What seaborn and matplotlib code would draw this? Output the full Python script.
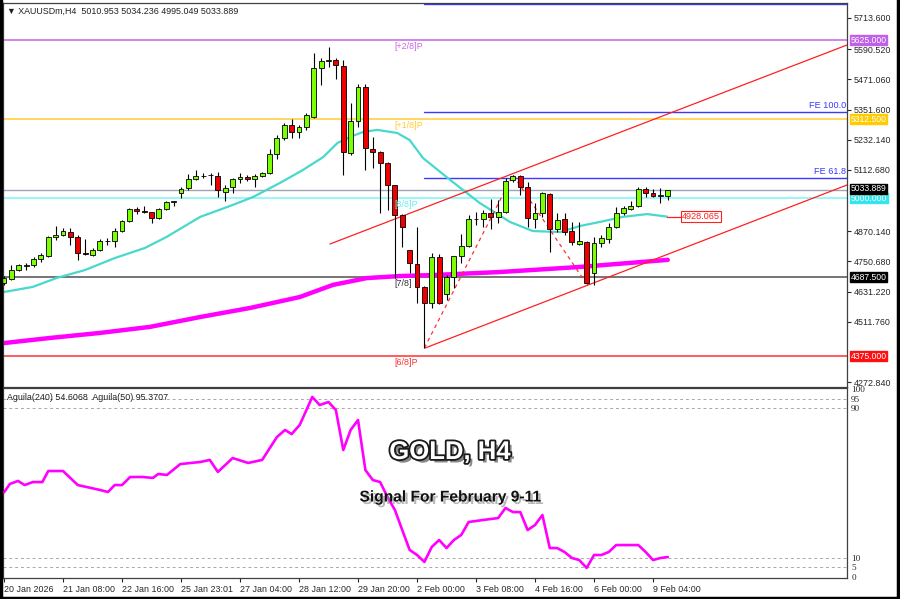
import numpy as np
import pandas as pd
import matplotlib
matplotlib.use("Agg")
import matplotlib.pyplot as plt
import matplotlib.patheffects as pe
from matplotlib.lines import Line2D
from matplotlib.transforms import blended_transform_factory
import seaborn as sns

sns.set_style("white")
plt.rcParams["font.family"] = ["Liberation Sans", "DejaVu Sans"]

# ---- H4 candles, XAUUSDm (bar 0 = 20 Jan 2026) ----
opens = [4665.5, 4681.4, 4716.9, 4734, 4736.7, 4760.5, 4772.3, 4847.5, 4855.4, 4867.2,
         4847.5, 4784.2, 4776.3, 4796.0, 4830, 4831.6, 4871.2, 4910.7, 4958.2, 4950.3,
         4946.3, 4922.6, 4958.2, 4986, 5021.5, 5041.3, 5076.9, 5088, 5092, 5088.7,
         5025.4, 5045.2, 5076.9, 5084.8, 5076.9, 5088.7, 5100.6, 5175.7, 5239.0, 5290.4,
         5262.7, 5282.5, 5322.1, 5515.9, 5545, 5547.5, 5523.8, 5179.7, 5306.2, 5440.7,
         5195.5, 5183.6, 5140.1, 5053.1, 4934.5, 4796.0, 4740.7, 4649.7, 4586.4, 4768.4,
         4622.0, 4689.3, 4772.3, 4811.9, 4917, 4918.7, 4942.4, 4926.6, 4946.3, 5072.9,
         5088.7, 5045.2, 4918.7, 4942.4, 5017.5, 4879.1, 4918.7, 4871.2, 4819.8, 4827.7,
         4705.1, 4823.7, 4839.6, 4887.0, 4942.4, 4958.2, 4970.1, 5037.3, 5021.5, 5011,
         5010.953]
highs = [4693.2, 4736.7, 4740.7, 4744.6, 4768.4, 4784.2, 4851.4, 4891.0, 4883.1, 4883.1,
         4855.4, 4839.6, 4804.0, 4839.6, 4843.5, 4883.1, 4914.7, 4962.2, 4966.1, 4970.1,
         4948, 4962.2, 4989.8, 4991, 5045.2, 5096.6, 5112.4, 5100.6, 5100.6, 5104.5,
         5053.1, 5080.8, 5100.6, 5092.7, 5096.6, 5104.5, 5195.5, 5250.9, 5298.3, 5314.2,
         5290.4, 5337.9, 5575.2, 5555.4, 5598.9, 5555.4, 5547.5, 5377.4, 5452.6, 5452.6,
         5243.0, 5186, 5144.1, 5055, 4937, 4798, 4887.0, 4652, 4784.2, 4780.2,
         4697.2, 4774, 4859.3, 4934.5, 4946.3, 4954.2, 4997.8, 4993.8, 5080.8, 5092.7,
         5092.7, 5065.0, 4981.9, 5025.4, 5021.5, 4942.4, 4942.4, 4906.8, 4906.8, 4830,
         4847.5, 4855.4, 4902.8, 4966.1, 4970.1, 4989.8, 5045.2, 5045.2, 5037.3, 5041.3,
         5034.236]
lows = [4657.6, 4677.4, 4713.0, 4716.9, 4728.8, 4748.6, 4768.4, 4835.6, 4851.4, 4815.8,
        4756.5, 4776.3, 4772.3, 4792.1, 4815.8, 4807.9, 4867.2, 4906.8, 4938.4, 4944,
        4902.8, 4918.7, 4954.2, 4970.1, 5001.7, 5033.3, 5072.9, 5080.8, 5053.1, 5005.7,
        4989.8, 5021.5, 5061.0, 5068.9, 5045.2, 5084.8, 5096.6, 5156.0, 5231.1, 5239.0,
        5239.0, 5270.6, 5318.1, 5448.6, 5519.8, 5472.4, 5092.7, 5171.8, 5282.5, 5112.4,
        5120.4, 4942.4, 4954.2, 4685.3, 4807.9, 4705.1, 4586.4, 4408.5, 4566.7, 4582.5,
        4598.3, 4645.8, 4744.6, 4807.9, 4894.9, 4887.0, 4879.1, 4902.8, 4942.4, 5065.0,
        5013.6, 4887.0, 4883.1, 4926.6, 4788.1, 4867.2, 4855.4, 4815.8, 4815.8, 4661.6,
        4657.6, 4807.9, 4823.7, 4883.1, 4934.5, 4954.2, 4966.1, 5005.7, 5005.7, 4981.9,
        4995.049]
closes = [4685.3, 4716.9, 4736.7, 4737, 4760.5, 4776.3, 4847.5, 4855.4, 4871.2, 4847.5,
          4784.2, 4780.2, 4796.0, 4831.6, 4832, 4871.2, 4910.7, 4958.2, 4950.3, 4946.3,
          4922.6, 4958.2, 4985.9, 4988, 5037.3, 5076.9, 5088.7, 5090, 5093, 5033.3,
          5041.3, 5076.9, 5084.8, 5076.9, 5088.7, 5100.6, 5175.7, 5239.0, 5290.4, 5262.7,
          5282.5, 5330.0, 5515.9, 5543.5, 5547.5, 5527.7, 5183.6, 5306.2, 5440.7, 5199.5,
          5183.6, 5140.1, 5053.1, 4934.5, 4887.0, 4744.6, 4649.7, 4586.4, 4768.4, 4586.4,
          4689.3, 4772.3, 4811.9, 4918.7, 4919, 4942.4, 4926.6, 4946.3, 5068.9, 5088.7,
          5045.2, 4922.6, 4942.4, 5021.5, 4879.1, 4914.7, 4867.2, 4827.7, 4831.6, 4665.5,
          4823.7, 4843.5, 4887.0, 4942.4, 4962.2, 4970.1, 5037.3, 5021.5, 5009.6, 5012,
          5033.889]

# moving averages at a few bars
ma_fast_bar = [0, 3.9, 7.1, 11, 15, 19.1, 22, 26.6, 31, 33.8, 37.4, 40.5, 43.3, 45.2, 46.9,
               48.7, 50.6, 53.3, 55, 56.8, 60.5, 64.5, 68.6, 71.7, 75.4, 78.1, 80.8, 83.9,
               87.2, 89.9]
ma_fast_val = [4630, 4650, 4685, 4717, 4764, 4804, 4847, 4927, 4974, 5006, 5061, 5112, 5164,
               5219, 5243, 5263, 5271, 5259, 5231, 5160, 5073, 4982, 4907, 4871, 4867, 4891,
               4907, 4927, 4938, 4928.065]
ma_slow_bar = [0, 6.2, 13, 19.8, 26.6, 33.4, 40.1, 44.6, 49.2, 53.7, 58.2, 67.3, 78.1, 90]
ma_slow_val = [4428, 4448, 4468, 4492, 4531, 4567, 4610, 4658, 4685, 4693, 4697, 4709, 4729,
               4757]

# oscillator panel
osc_bar = [0, 0.8, 1.9, 2.8, 3.9, 5.2, 6, 8, 10, 13, 14.1, 15, 16, 17.1, 18.8, 20.2, 20.9,
           22.1, 23.9, 26.6, 27.9, 29, 31, 33.1, 35, 37, 38.1, 39, 40.1, 41.8, 42.8, 44, 45,
           46, 47, 48, 49, 50, 51, 52, 53, 54, 55, 56, 57, 58, 59, 60, 61, 62, 63, 65, 67,
           68, 69, 70, 71, 72, 73, 74, 75, 76, 77, 78, 79, 80, 81, 82, 83, 85, 86, 87, 88,
           89, 90]
osc_val = [45, 49.5, 51.1, 48.9, 50.5, 50.5, 56.4, 56.4, 48.9, 46.3, 45.2, 48.9, 48.9, 53.2,
           53.2, 52.7, 54.8, 54.3, 60.1, 61.2, 62.3, 55.9, 63.3, 60.7, 62.3, 74.5, 78.3, 76.1,
           81, 95.9, 91.6, 93.2, 88.9, 67.6, 78.3, 83.6, 56.9, 51.6, 50.5, 42.5, 35.6, 24.9,
           14.3, 11.6, 7.9, 15.9, 19.6, 15.3, 19.6, 22.3, 29.2, 30.3, 31.3, 36.7, 34.5, 34.5,
           24.9, 27.6, 32.9, 15.3, 15.3, 13.2, 10, 8.9, 4.7, 11.6, 11.6, 13.2, 16.9, 16.9,
           16.9, 13.2, 8.9, 10, 10.5]

# horizontal levels (price, line colour, label colour, label)
levels = [5625.0, 5312.5, 5000.0, 4687.5, 4375.0]
level_colors = ["#c864e6", "#ffcc33", "#7ff7f7", "#505050", "#ff3030"]
level_box_colors = ["#c060e8", "#ffcc00", "#33e6ee", "#000000", "#ff1010"]
level_tags = ["[+2/8]P", "[+1/8]P", "[8/8]P", "[7/8]", "[6/8]P"]
level_tag_colors = ["#c864e6", "#ffcc33", "#66eeee", "#303030", "#ff3030"]
last_price = 5033.889

fe_levels = [5768.0, 5341.8, 5080.8]
fe_tags = ["", "FE 100.0", "FE 61.8"]
fe_start_bar = 57

channel_bars = [44.2, 114.3]
channel_upper = [4819.8, 5606.8]
channel_lower_bars = [57.1, 114.3]
channel_lower = [4408.5, 5053.1]
zigzag_bars = [57, 69, 79]

price_ticks = [5713.6, 5590.52, 5471.06, 5351.6, 5232.14, 5112.68, 4870.14,
               4750.68, 4631.22, 4511.76, 4272.84]
osc_ticks = [0, 5, 10, 90, 95, 100]
x_tick_bars = [0, 8, 16, 24, 32, 40, 48, 56, 64, 72, 80, 88]
x_tick_labels = ["20 Jan 2026", "21 Jan 08:00", "22 Jan 16:00", "25 Jan 23:01",
                 "27 Jan 04:00", "28 Jan 12:00", "29 Jan 20:00", "2 Feb 00:00",
                 "3 Feb 08:00", "4 Feb 16:00", "6 Feb 00:00", "9 Feb 04:00"]

df = pd.DataFrame({"open": opens, "high": highs, "low": lows, "close": closes})
df["bar"] = np.arange(len(df))
df["up"] = df["close"] >= df["open"]

fig = plt.figure(figsize=(9, 5.99), dpi=100)
ax = fig.add_axes([3 / 900, 1 - 387 / 599, 844 / 900, 384 / 599])
ax2 = fig.add_axes([3 / 900, 1 - 578 / 599, 844 / 900, 190 / 599])
XLIM = (-0.136, 114.3)

# levels
for p, c in zip(levels, level_colors):
    ax.axhline(p, color=c, lw=1.1, zorder=1)
ax.axhline(last_price, color="#a0a4b4", lw=1.0, zorder=1)
for p in fe_levels:
    ax.plot([fe_start_bar, XLIM[1]], [p, p], color="#3a3aff", lw=1.0, zorder=1)

# moving averages
sns.lineplot(x=ma_slow_bar, y=ma_slow_val, ax=ax, color="#ff00ff", lw=3.2, sort=False,
             estimator=None, zorder=2)
sns.lineplot(x=ma_fast_bar, y=ma_fast_val, ax=ax, color="#48d8cc", lw=1.6, sort=False,
             estimator=None, zorder=2)

# channel and zigzag
ax.plot(channel_bars, channel_upper, color="#ff2020", lw=0.9, zorder=2)
ax.plot(channel_lower_bars, channel_lower, color="#ff2020", lw=0.9, zorder=2)
zz_y = [lows[zigzag_bars[0]], highs[zigzag_bars[1]], lows[zigzag_bars[2]]]
ax.plot(zigzag_bars, zz_y, color="#ff3030", lw=0.9, ls=(0, (3, 3)), zorder=2)

# candles
ax.vlines(df["bar"], df["low"], df["high"], color="black", lw=0.8, zorder=3)
body_lo = df[["open", "close"]].min(axis=1)
body_h = (df["close"] - df["open"]).abs().clip(lower=0.8)
colors = np.where(df["up"], "#7cff00", "#ee0000")
ax.bar(df["bar"], body_h, bottom=body_lo, width=0.66, color=colors, edgecolor="black",
       lw=0.6, zorder=4)

ax.set_xlim(*XLIM)
ax.set_ylim(4254.2, 5772.9)
ax.set_xticks([])
ax.yaxis.tick_right()
ax.set_yticks(price_ticks)
ax.set_yticklabels([f"{v:.3f}" for v in price_ticks])
ax.tick_params(axis="y", direction="out", length=3, width=0.8, labelsize=6.4, pad=2,
               right=True, left=False)
for s in ax.spines.values():
    s.set_color("#404040")
    s.set_linewidth(0.9)

# level tags inside the chart
for p, t, c in zip(levels, level_tags, level_tag_colors):
    ax.text(52.9, p - 8, t, color=c, fontsize=6.4, va="top", ha="left", zorder=5)
for p, t in zip(fe_levels, fe_tags):
    if t:
        ax.text(XLIM[1] - 0.1, p + 6, t, color="#3a3aff", fontsize=6.6, va="bottom",
                ha="right", zorder=5)

# boxed price labels on the right scale
tr = blended_transform_factory(ax.transAxes, ax.transData)
for p, c in zip(levels, level_box_colors):
    ax.text(1.0045, p, f"{p:.3f}", transform=tr, color="white", fontsize=6.2, va="center",
            ha="left", clip_on=False, zorder=6,
            bbox=dict(boxstyle="square,pad=0.06", fc=c, ec=c))
ax.text(1.0045, last_price + 4, f"{last_price:.3f}", transform=tr, color="white",
        fontsize=6.2, va="center", ha="left", clip_on=False, zorder=7,
        bbox=dict(boxstyle="square,pad=0.06", fc="black", ec="black"))

# fast MA value tag
ax.plot([ma_fast_bar[-1], 91.6], [ma_fast_val[-1]] * 2, color="#ff2020", lw=0.9, zorder=2)
ax.text(91.9, ma_fast_val[-1], f"{ma_fast_val[-1]:.3f}", color="#ff2020", fontsize=6.6,
        va="center", ha="left", zorder=6,
        bbox=dict(boxstyle="square,pad=0.12", fc="white", ec="#ff2020", lw=0.8))

# oscillator panel
for lv in [95, 90, 10, 5]:
    ax2.axhline(lv, color="#a8a8a8", lw=0.7, ls=(0, (3, 3)), zorder=1)
sns.lineplot(x=osc_bar, y=osc_val, ax=ax2, color="#ff00ff", lw=1.9, sort=False,
             estimator=None, zorder=3)
ax2.set_xlim(*XLIM)
ax2.set_ylim(-0.67, 100.67)
ax2.yaxis.tick_right()
ax2.set_yticks(osc_ticks)
ax2.set_yticklabels([str(v) for v in osc_ticks], family="Liberation Serif")
ax2.tick_params(axis="y", direction="out", length=0, labelsize=6.6, pad=3, right=True,
                left=False)
ax2.set_xticks(x_tick_bars)
ax2.set_xticklabels(x_tick_labels, ha="left")
ax2.tick_params(axis="x", direction="out", length=3, width=0.8, labelsize=6.4, pad=2,
                bottom=True)
ax2.set_xlabel("")
ax2.set_ylabel("")
for s in ax2.spines.values():
    s.set_color("#404040")
    s.set_linewidth(0.9)
ax2.text(0.005, 0.975, "Aguila(240) 54.6068  Aguila(50) 95.3707", transform=ax2.transAxes,
         fontsize=6.4, va="top", ha="left", color="#202020")

# header
fig.text(7 / 900, 1 - 11 / 599, "\u25bc XAUUSDm,H4  5010.953 5034.236 4995.049 5033.889",
         fontsize=6.4, va="center", ha="left", color="#202020",
         family=["Liberation Sans", "DejaVu Sans"])

# overlay titles
fig.text(0.5, 1 - 452 / 599, "GOLD, H4", fontsize=18.5, fontweight="bold", color="white",
         ha="center", va="center",
         path_effects=[pe.SimplePatchShadow(offset=(2.5, -2.5), shadow_rgbFace="#555555",
                                            alpha=0.7),
                       pe.Stroke(linewidth=2.6, foreground="#1a1a1a"), pe.Normal()])
fig.text(0.5, 1 - 497 / 599, "Signal For February 9-11", fontsize=11.2, fontweight="bold",
         color="#111111", ha="center", va="center",
         path_effects=[pe.SimplePatchShadow(offset=(1.8, -1.8), shadow_rgbFace="#888888",
                                            alpha=0.6), pe.Normal()])

# outer frame
for xs, ys in [([0.001, 0.001], [0, 1]), ([0.998, 0.998], [0, 1]), ([0, 1], [0.002, 0.002])]:
    fig.add_artist(Line2D(xs, ys, transform=fig.transFigure, color="black", lw=2.5))

fig.savefig("out.png", dpi=100)
